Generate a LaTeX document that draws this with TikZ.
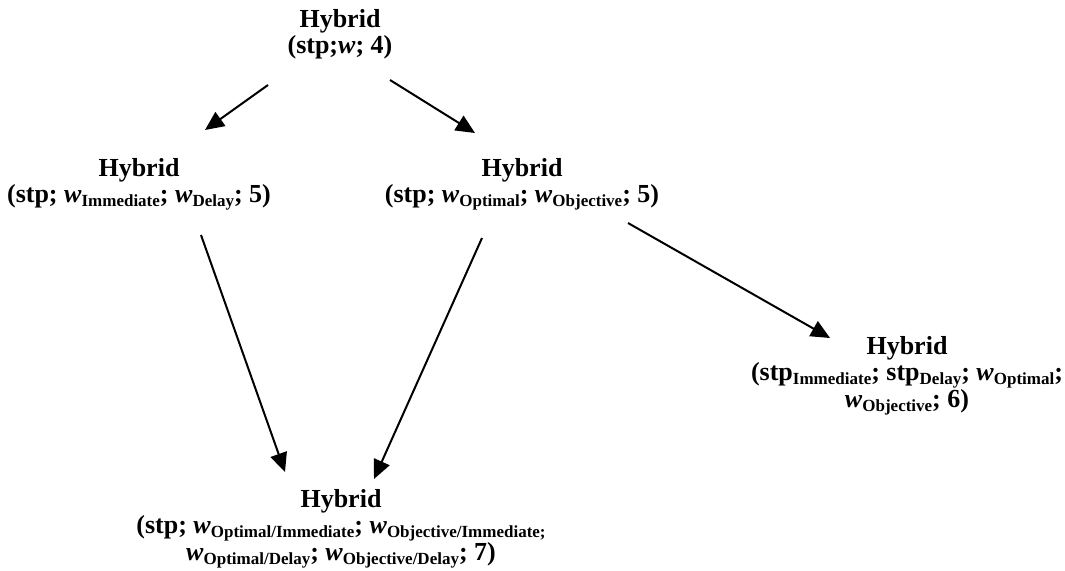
\documentclass[tikz,border=0pt]{standalone}
\usepackage{fontspec}
\setmainfont{Liberation Serif}
\usepackage{tikz}
\usetikzlibrary{arrows.meta}

\newcommand{\lowsub}[1]{\raisebox{-4pt}{\fontsize{17}{17}\selectfont #1}}

\begin{document}
\begin{tikzpicture}[x=1pt,y=-1pt]
  \tikzset{hybrid/.style = {align=center,inner sep=0pt,anchor=base,
      font=\bfseries\fontsize{26}{25.5}\selectfont}}
  \tikzset{edge/.style = {-{Triangle[length=19pt,width=17pt]},line width=2pt}}

  \useasboundingbox (0,0) rectangle (1065,570);

	\node[hybrid] (top) at (340,53) {Hybrid\\(stp;\textit{w}; 4)};
	\node[hybrid] (midl) at (139,202) {Hybrid\\(stp; \textit{w}\lowsub{Immediate}; \textit{w}\lowsub{Delay}; 5)};
	\node[hybrid] (midr) at (522,202) {Hybrid\\(stp; \textit{w}\lowsub{Optimal}; \textit{w}\lowsub{Objective}; 5)};
	\node[hybrid] (far) at (907,407) {Hybrid\\(stp\lowsub{Immediate}; stp\lowsub{Delay}; \textit{w}\lowsub{Optimal};\\\textit{w}\lowsub{Objective}; 6)};
	\node[hybrid] (bot) at (341,560) {Hybrid\\(stp; \textit{w}\lowsub{Optimal/Immediate}; \textit{w}\lowsub{Objective/Immediate;}\\\textit{w}\lowsub{Optimal/Delay}; \textit{w}\lowsub{Objective/Delay}; 7)};

       \foreach \from/\fx/\fy/\to/\tx/\ty in {top/-72/32/midl/66/-72, top/50/27/midr/-47/-69,
         midl/62/33/bot/-56/-88, midr/-40/36/bot/33/-81, midr/106/21/far/-77/-69}
    \draw[edge] ([shift={(\fx,\fy)}]\from.base) -- ([shift={(\tx,\ty)}]\to.base);
\end{tikzpicture}
\end{document}
